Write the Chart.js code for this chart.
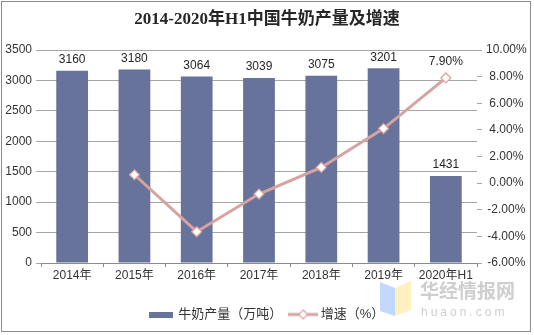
<!DOCTYPE html>
<html>
<head>
<meta charset="utf-8">
<script src="https://cdn.jsdelivr.net/npm/chart.js@4/dist/chart.umd.min.js"></script>
<style>
  html, body { margin: 0; padding: 0; background: #fff; }
  #wrap { width: 534px; height: 335px; position: relative; }
</style>
</head>
<body>
<div id="wrap"><canvas id="grafica" width="534" height="335"></canvas></div>
<script>
// datos
const anios = ['2014年', '2015年', '2016年', '2017年', '2018年', '2019年', '2020年H1'];
const produccion = [3160, 3180, 3064, 3039, 3075, 3201, 1431];
const crecimiento = [null, 0.63, -3.65, -0.82, 1.18, 4.10, 7.90];
const ticksIzq = [0, 500, 1000, 1500, 2000, 2500, 3000, 3500];
const ticksDer = [-6, -4, -2, 0, 2, 4, 6, 8, 10];

const colorBarra = '#67739a';
const colorLinea = '#d6a3a1';
const fuente = '"Liberation Sans", Arial, "Noto Sans CJK SC", sans-serif';

// iconos de la leyenda
function iconoBarra() {
  const c = document.createElement('canvas');
  c.width = 24; c.height = 6;
  const g = c.getContext('2d');
  g.fillStyle = colorBarra;
  g.fillRect(0, 0, 24, 6);
  return c;
}
function iconoLinea() {
  const c = document.createElement('canvas');
  c.width = 30; c.height = 12;
  const g = c.getContext('2d');
  g.strokeStyle = colorLinea;
  g.lineWidth = 3;
  g.beginPath(); g.moveTo(0, 6); g.lineTo(30, 6); g.stroke();
  g.fillStyle = '#fff';
  g.lineWidth = 1.2;
  g.beginPath();
  g.moveTo(15, 1.5); g.lineTo(19.5, 6); g.lineTo(15, 10.5); g.lineTo(10.5, 6); g.closePath();
  g.fill(); g.stroke();
  return c;
}

// etiquetas de valores, título, marca de agua y borde
const extras = {
  id: 'extras',
  afterDatasetsDraw(chart) {
    const ctx = chart.ctx;
    ctx.save();
    ctx.font = '12px ' + fuente;
    ctx.fillStyle = '#262626';
    ctx.textAlign = 'center';
    ctx.textBaseline = 'bottom';
    chart.getDatasetMeta(0).data.forEach((el, i) => {
      ctx.fillText(String(produccion[i]), el.x, el.y - 5);
    });
    const puntos = chart.getDatasetMeta(1).data;
    const ult = puntos[puntos.length - 1];
    ctx.fillText(crecimiento[crecimiento.length - 1].toFixed(2) + '%', ult.x, ult.y - 10);
    ctx.restore();
  },
  afterDraw(chart) {
    const ctx = chart.ctx;
    ctx.save();
    // título
    ctx.font = 'bold 17px "Liberation Serif", "Noto Sans CJK SC", serif';
    ctx.fillStyle = '#262626';
    ctx.textAlign = 'center';
    ctx.textBaseline = 'middle';
    ctx.fillText('2014-2020年H1中国牛奶产量及增速', 267, 20);
    // marca de agua
    ctx.globalAlpha = 0.55;
    ctx.fillStyle = '#8fb8ff';
    ctx.beginPath();
    ctx.moveTo(380, 282); ctx.lineTo(395, 288); ctx.lineTo(395, 316); ctx.lineTo(380, 311); ctx.closePath();
    ctx.fill();
    ctx.fillStyle = '#ffe38a';
    ctx.beginPath();
    ctx.moveTo(395, 288); ctx.lineTo(411, 281); ctx.lineTo(411, 310); ctx.lineTo(395, 316); ctx.closePath();
    ctx.fill();
    ctx.globalAlpha = 1;
    ctx.fillStyle = 'rgba(190,190,190,0.75)';
    ctx.textAlign = 'left';
    ctx.font = 'bold 19px "Noto Sans CJK SC", sans-serif';
    ctx.fillText('华经情报网', 420, 291);
    ctx.font = '12px ' + fuente;
    ctx.letterSpacing = '3px';
    ctx.fillText('huaon.com', 421, 313);
    ctx.letterSpacing = '0px';
    // borde
    ctx.strokeStyle = '#8c8c8c';
    ctx.lineWidth = 1;
    ctx.strokeRect(1.5, 1.5, 529, 330);
    ctx.restore();
  }
};

new Chart(document.getElementById('grafica'), {
  data: {
    labels: anios,
    datasets: [
      {
        type: 'bar',
        label: '牛奶产量（万吨）',
        data: produccion,
        backgroundColor: colorBarra,
        barPercentage: 0.51,
        categoryPercentage: 1,
        yAxisID: 'y',
        order: 2
      },
      {
        type: 'line',
        label: '增速（%）',
        data: crecimiento,
        borderColor: colorLinea,
        borderWidth: 3,
        pointStyle: 'rectRot',
        pointRadius: 5,
        pointBorderWidth: 1.2,
        pointBackgroundColor: '#fff',
        pointBorderColor: colorLinea,
        yAxisID: 'y1',
        order: 1
      }
    ]
  },
  options: {
    responsive: false,
    animation: false,
    layout: { padding: { top: 50, bottom: 4, left: 0, right: 0 } },
    scales: {
      x: {
        grid: { display: true, drawOnChartArea: false, offset: true, tickLength: 4, color: '#8c8c8c' },
        border: { color: '#8c8c8c' },
        ticks: { font: { size: 12, family: fuente }, color: '#333', padding: 1, maxRotation: 0 },
        afterFit: (s) => { s.height = 35; }
      },
      y: {
        position: 'left',
        min: 0,
        max: 3500,
        afterBuildTicks: (s) => { s.ticks = ticksIzq.map(v => ({ value: v })); },
        grid: { color: '#a6a6a6', tickLength: 5 },
        border: { display: false },
        ticks: {
          font: { size: 12, family: fuente }, color: '#333', padding: 4,
          callback: (v) => String(v)
        },
        afterFit: (s) => { s.width = 41; }
      },
      y1: {
        position: 'right',
        min: -6,
        max: 10,
        afterBuildTicks: (s) => { s.ticks = ticksDer.map(v => ({ value: v })); },
        grid: { drawOnChartArea: false, tickLength: 5, color: '#a6a6a6' },
        border: { display: false },
        ticks: {
          font: { size: 12, family: fuente }, color: '#333', padding: 4,
          crossAlign: 'center',
          callback: (v) => v.toFixed(2) + '%'
        },
        afterFit: (s) => { s.width = 57; }
      }
    },
    plugins: {
      legend: {
        position: 'bottom',
        labels: {
          font: { size: 13, family: fuente },
          color: '#333',
          usePointStyle: true,
          pointStyleWidth: 22,
          padding: 10,
          generateLabels: (chart) => chart.data.datasets.map((d, i) => ({
            text: d.label,
            pointStyle: i === 0 ? iconoBarra() : iconoLinea(),
            datasetIndex: i,
            hidden: false,
            fontColor: '#333'
          }))
        }
      },
      title: { display: false },
      tooltip: { enabled: false }
    }
  },
  plugins: [extras]
});
</script>
</body>
</html>
